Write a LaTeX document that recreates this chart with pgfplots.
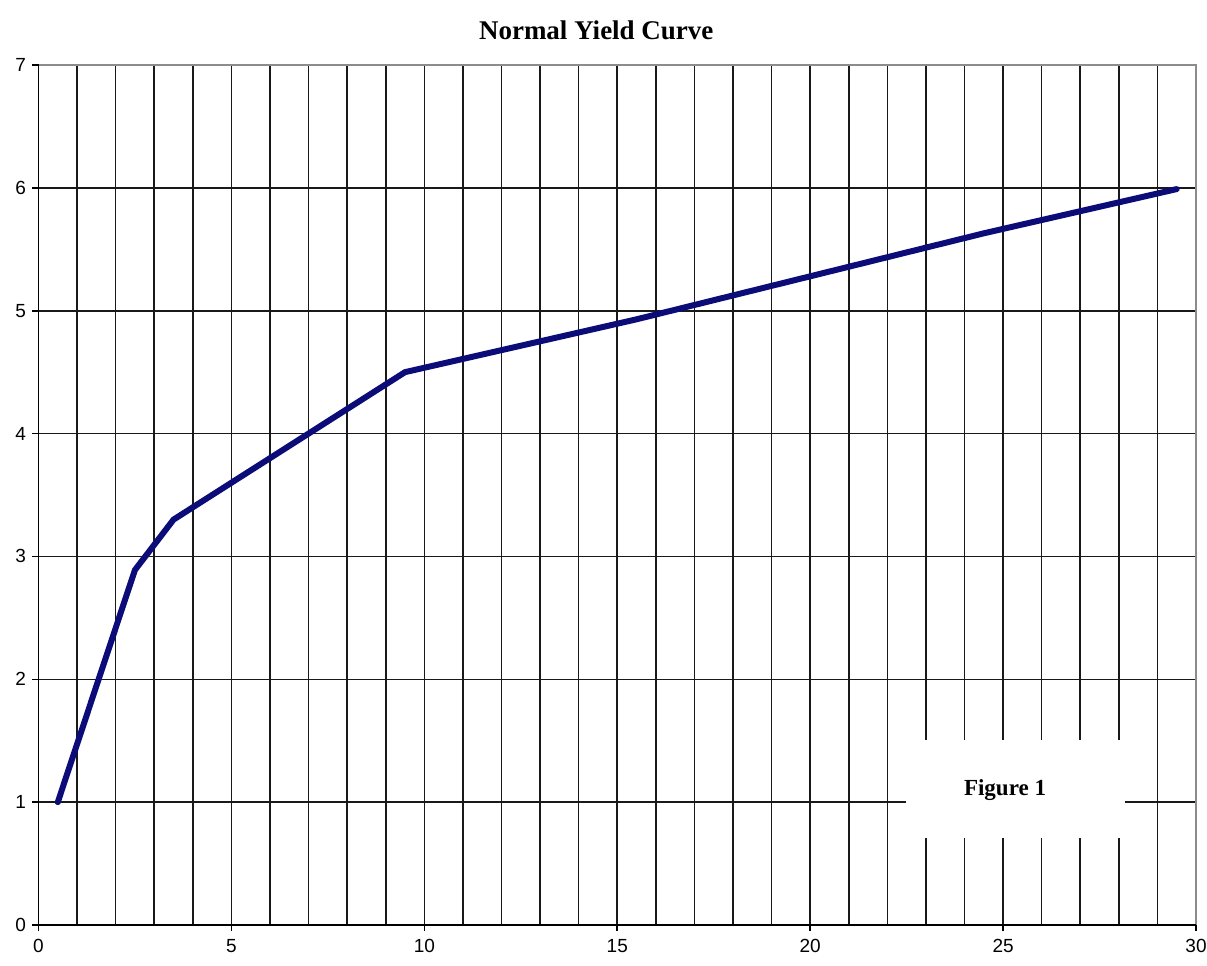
\documentclass[border=0pt]{standalone}
\usepackage{pgfplots}
\pgfplotsset{compat=1.18}
\usepackage{fontspec}
\setmainfont{Liberation Serif}
\newfontfamily\sansf{Liberation Sans}
\definecolor{navyline}{RGB}{12,12,120}
\begin{document}
\begin{tikzpicture}
\begin{axis}[
  scale only axis,
  width=1157.5pt, height=860pt,
  xmin=0, xmax=30, ymin=0, ymax=7,
  xtick={0,5,...,30},
  minor xtick={1,...,29},
  ytick={0,1,...,7},
  xmajorgrids, xminorgrids, ymajorgrids,
  major grid style={black!90, line width=1.6pt},
  minor grid style={black!90, line width=1.6pt},
  axis line style={draw=none},
  tick align=outside,
  major tick length=6pt,
  minor tick length=0pt,
  tick style={black, line width=1.6pt},
  xtick pos=bottom, ytick pos=left,
  /pgf/number format/assume math mode=true,
  ticklabel style={font=\sansf\fontsize{19}{21}\selectfont},
  xticklabel style={yshift=-5pt},
  yticklabel style={xshift=-3pt},
  clip=false,
]
\addplot[navyline, line width=6pt, line join=round, line cap=round] coordinates {
  (0.5,1.0) (2.5,2.89) (3.5,3.30) (9.5,4.50) (15.5,4.93) (24.5,5.63) (29.5,5.99)
};
\draw[black!45, line width=1.6pt] (axis cs:0,7) -- (axis cs:30,7) -- (axis cs:30,0);
\draw[black, line width=1.6pt] (axis cs:0,7) -- (axis cs:0,0) -- (axis cs:30,0);
\fill[white] (axis cs:22.48,0.71) rectangle (axis cs:28.16,1.505);
\node[font=\bfseries\fontsize{23}{26}\selectfont] at (axis cs:25.05,1.1) {Figure 1};
\coordinate (SW) at (rel axis cs:0,0);
\coordinate (NE) at (rel axis cs:1,1);
\coordinate (TOP) at (rel axis cs:0.5,1);
\end{axis}
\node[font=\bfseries\fontsize{27}{30}\selectfont] at ([xshift=-21pt,yshift=35pt]TOP) {Normal Yield Curve};
\pgfresetboundingbox
\path ([xshift=-38.5pt,yshift=-40pt]SW) rectangle ([xshift=11pt,yshift=65pt]NE);
\end{tikzpicture}
\end{document}
